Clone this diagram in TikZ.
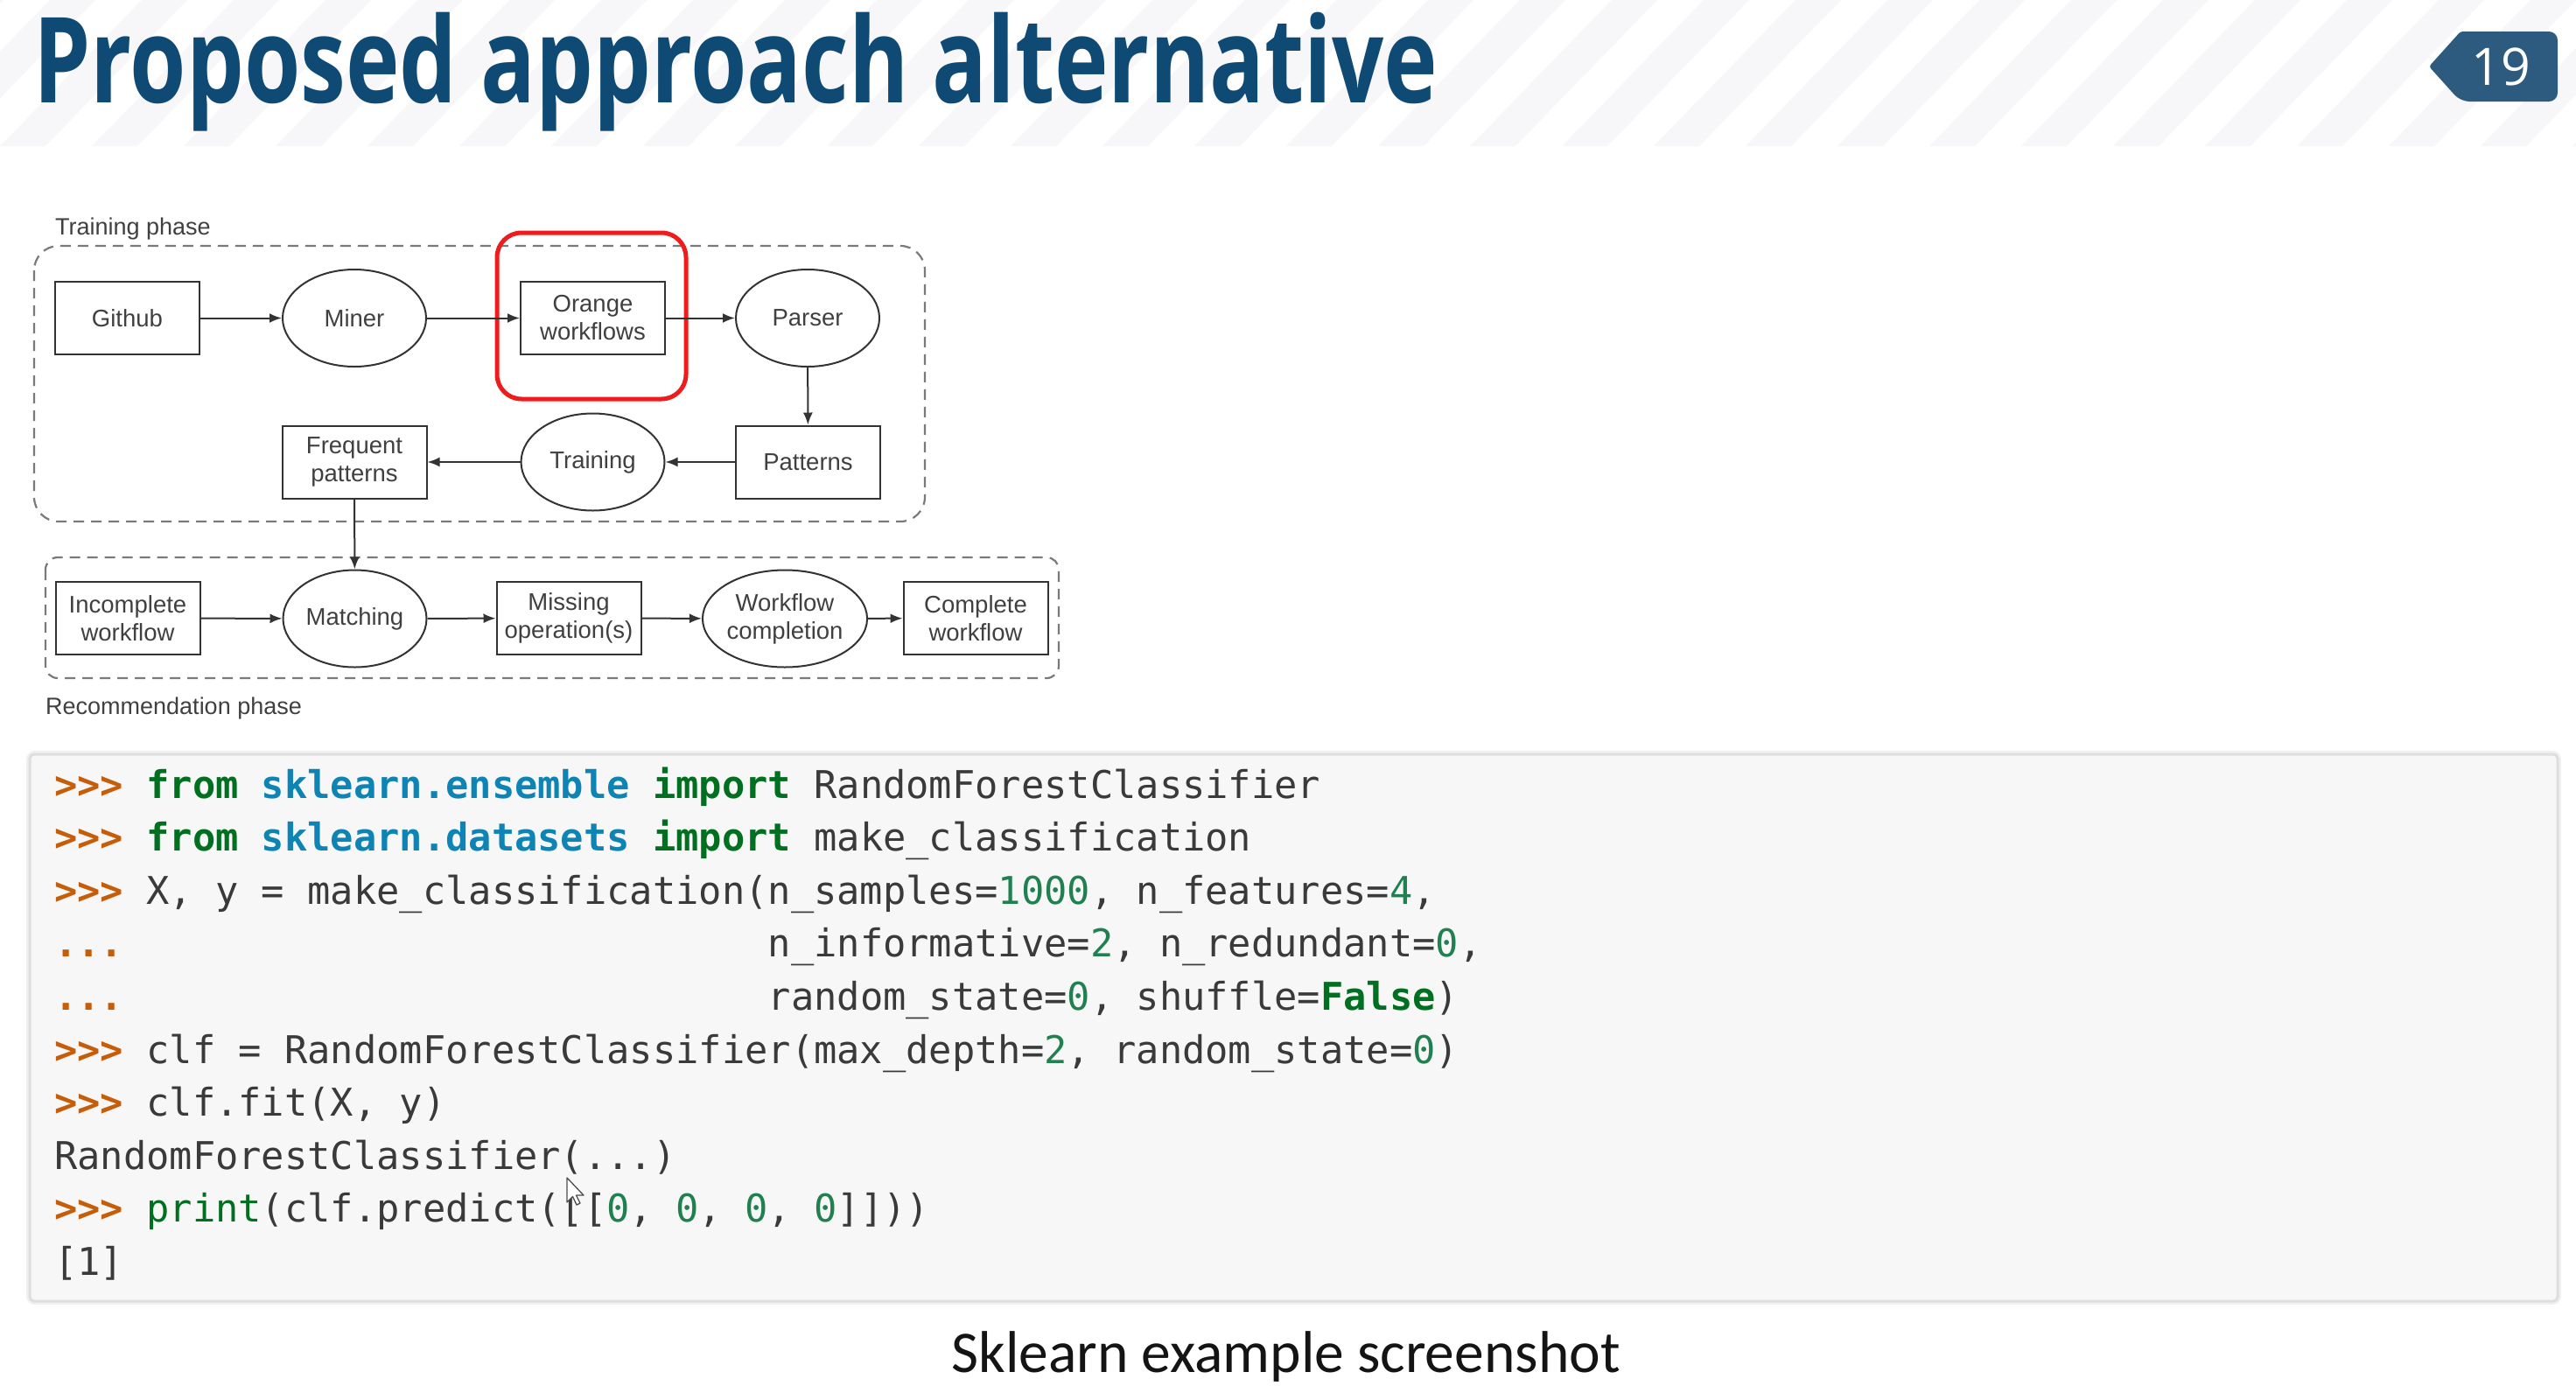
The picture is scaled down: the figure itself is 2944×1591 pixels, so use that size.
\documentclass[tikz,border=0pt]{standalone}
\usepackage{fontspec}
\usepackage{graphicx}
\setmainfont{Liberation Sans}
\newfontfamily\titlefont{Open Sans}
\newfontfamily\badgefont{Open Sans}
\newfontfamily\codefont{DejaVu Sans Mono}
\newfontfamily\capfont{Carlito}
\usetikzlibrary{shapes.geometric,arrows.meta}
\definecolor{titleblue}{HTML}{0E4A73}
\definecolor{badgeblue}{HTML}{2D5B80}
\definecolor{stripe}{HTML}{F7F7F9}
\definecolor{nodeline}{HTML}{333333}
\definecolor{nodetext}{HTML}{404040}
\definecolor{dashgray}{HTML}{7A7A7A}
\definecolor{redbox}{HTML}{EE1C1C}
\definecolor{codebg}{HTML}{F7F7F7}
\definecolor{codeborder}{HTML}{DEDEDE}
\definecolor{codetext}{HTML}{3A3A3A}
\definecolor{cprompt}{HTML}{C65D09}
\definecolor{ckw}{HTML}{007020}
\definecolor{cnn}{HTML}{0E84B5}
\definecolor{cmi}{HTML}{208050}
\newcommand\cdPR[1]{\textcolor{cprompt}{\bfseries #1}}
\newcommand\cdKW[1]{\textcolor{ckw}{\bfseries #1}}
\newcommand\cdNN[1]{\textcolor{cnn}{\bfseries #1}}
\newcommand\cdMI[1]{\textcolor{cmi}{#1}}
\newcommand\cdNB[1]{\textcolor{ckw}{#1}}
\newcommand\cdsp[1]{\hspace*{#1\fontcharwd\font`0}}
\begin{document}
\begin{tikzpicture}[x=1pt,y=-1pt,
  box/.style={draw=nodeline, line width=2pt, minimum width=165pt, minimum height=83pt,
    inner sep=2pt, align=center, text=nodetext, font=\fontsize{27.5}{32}\selectfont},
  oval/.style={ellipse, draw=nodeline, line width=2pt, minimum width=164pt, minimum height=111pt,
    inner sep=0pt, align=center, text=nodetext, font=\fontsize{27.5}{32}\selectfont},
  flow/.style={draw=nodeline, line width=2pt, -{Latex[length=14pt,width=11pt]}},
  phase/.style={draw=dashgray, line width=2.2pt, dash pattern=on 12pt off 8pt},
  phaselabel/.style={anchor=west, inner sep=0pt, text=nodetext, font=\fontsize{27}{32}\selectfont},
  codeline/.style={anchor=base west, inner sep=0pt, text=codetext,
    font=\codefont\fontsize{43.7}{50}\selectfont\frenchspacing}
]
\useasboundingbox (0,0) rectangle (2944,1591);
\fill[white] (0,0) rectangle (2944,1591);

% header stripes
\begin{scope}
\clip (0,0) rectangle (2944,167);
\foreach \k in {-3,...,29} {
  \fill[stripe] (\k*105,167) -- (\k*105+52,167) -- (\k*105+52+162,0) -- (\k*105+162,0) -- cycle;
}
\end{scope}

% title
\node[anchor=base west, inner sep=0pt, text=titleblue] (title) at (38,117)
  {\resizebox{1605pt}{\height}{\titlefont\bfseries\fontsize{136}{140}\selectfont Proposed approach alternative}};

% badge
\fill[badgeblue] (2776,76) [rounded corners=3pt]-- (2812,36) [rounded corners=10pt]-- (2923,36) -- (2923,116) -- (2812,116) [rounded corners=3pt]-- cycle;
\node[anchor=base, inner sep=0pt, text=white, font=\badgefont\fontsize{59}{60}\selectfont] (num) at (2858.5,97) {19};

% phases
\draw[phase, rounded corners=28pt] (39,281) rectangle (1057,596);
\draw[phase, rounded corners=14pt] (52,637) rectangle (1210,775);
\node[phaselabel] (trainlbl) at (63,262) {Training phase};
\node[phaselabel] (reclbl) at (52,810) {Recommendation phase};

% training nodes
\node[box] (github) at (145.5,363.5) {Github};
\node[oval] (miner) at (405,363.5) {Miner};
\node[box] (orange) at (677.5,363.5) {Orange\\workflows};
\node[oval] (parser) at (923,363.5) {Parser};
\node[box] (freq) at (405,528) {Frequent\\patterns};
\node[oval] (training) at (677.5,528) {Training};
\node[box] (patterns) at (923.5,528) {Patterns};

% highlight
\draw[redbox, line width=5pt, rounded corners=28pt] (568,266) rectangle (784,456);

% recommendation nodes
\node[box] (incomplete) at (146,706.5) {Incomplete\\workflow};
\node[oval] (matching) at (405.5,707) {Matching};
\node[box] (missing) at (650,706.5) {Missing\\operation(s)};
\node[oval] (wcompl) at (897,707) {Workflow\\completion};
\node[box] (complete) at (1115,706.5) {Complete\\workflow};

% connectors
\draw[flow] (github) -- (miner);
\draw[flow] (miner) -- (orange);
\draw[flow] (orange) -- (parser);
\draw[flow] (parser) -- (patterns);
\draw[flow] (patterns) -- (training);
\draw[flow] (training) -- (freq);
\draw[flow] (freq) -- (matching);
\draw[flow] (incomplete) -- (matching);
\draw[flow] (matching) -- (missing);
\draw[flow] (missing) -- (wcompl);
\draw[flow] (wcompl) -- (complete);

% code box
\draw[black!6, line width=8pt, rounded corners=6pt] (34,862) rectangle (2923,1487);
\node[draw=codeborder, line width=3pt, fill=codebg, rounded corners=5pt, inner sep=0pt,
  minimum width=2889pt, minimum height=625pt] (codebox) at (1478.5,1174.5) {};

\node[codeline] (l1) at (62,912) {\cdPR{>>>} \cdKW{from} \cdNN{sklearn.ensemble} \cdKW{import} RandomForestClassifier};
\node[codeline] (l2) at (62,972.6) {\cdPR{>>>} \cdKW{from} \cdNN{sklearn.datasets} \cdKW{import} make\_classification};
\node[codeline] (l3) at (62,1033.2) {\cdPR{>>>} X, y = make\_classification(n\_samples=\cdMI{1000}, n\_features=\cdMI{4},};
\node[codeline] (l4) at (62,1093.8) {\cdPR{...}\cdsp{28}n\_informative=\cdMI{2}, n\_redundant=\cdMI{0},};
\node[codeline] (l5) at (62,1154.4) {\cdPR{...}\cdsp{28}random\_state=\cdMI{0}, shuffle=\cdKW{False})};
\node[codeline] (l6) at (62,1215) {\cdPR{>>>} clf = RandomForestClassifier(max\_depth=\cdMI{2}, random\_state=\cdMI{0})};
\node[codeline] (l7) at (62,1275.6) {\cdPR{>>>} clf.fit(X, y)};
\node[codeline] (l8) at (62,1336.2) {RandomForestClassifier(...)};
\node[codeline] (l9) at (62,1396.8) {\cdPR{>>>} \cdNB{print}(clf.predict([[\cdMI{0}, \cdMI{0}, \cdMI{0}, \cdMI{0}]]))};
\node[codeline] (l10) at (62,1457.4) {[1]};

% mouse cursor
\draw[black!70, fill=white, line width=1.3pt, line join=round]
  (648,1346) -- (648,1374) -- (654.5,1367.5) -- (659,1377) -- (663,1375) -- (658.5,1366) -- (667,1366) -- cycle;

% caption
\node[anchor=base, inner sep=0pt, text=black!92, font=\capfont\fontsize{67.5}{70}\selectfont] (caption) at (1469.5,1568) {Sklearn example screenshot};
\end{tikzpicture}
\end{document}
